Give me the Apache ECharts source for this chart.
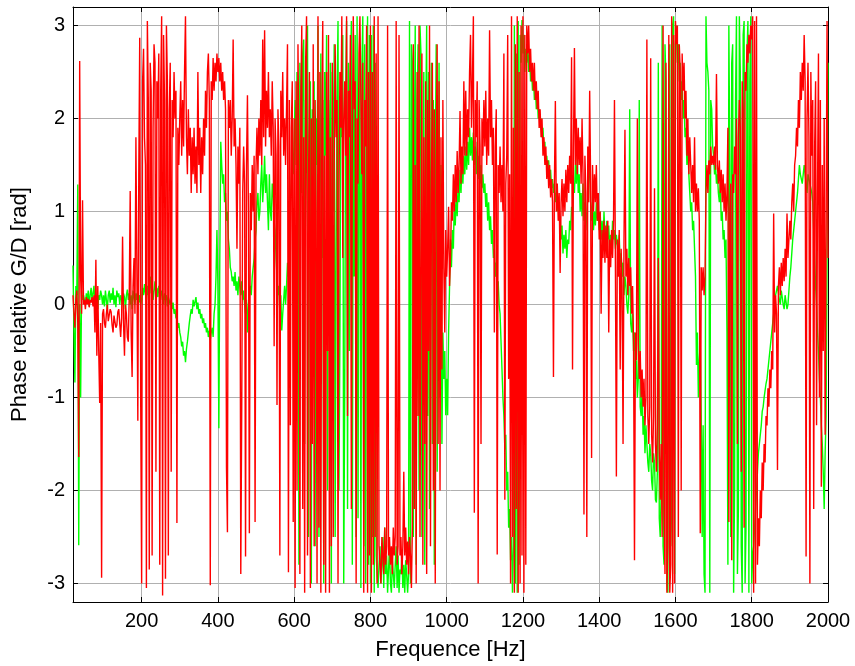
<!DOCTYPE html>
<html>
<head>
<meta charset="utf-8">
<script src="https://cdn.jsdelivr.net/npm/echarts@6/dist/echarts.min.js"></script>
<style>html,body{margin:0;padding:0;background:#fff}#c{width:855px;height:666px}</style>
</head>
<body>
<div id="c"></div>
<script>
// Frequency grid (Hz)
const freq = [
20,22.5,25,27.5,30,32.5,35,37.5,40,42.5,45,47.5,
50,52.5,55,57.5,60,62.5,65,67.5,70,72.5,75,77.5,80,82.5,85,87.5,90,92.5,95,97.5,
100,102.5,105,107.5,110,112.5,115,117.5,120,122.5,125,127.5,130,132.5,135,137.5,140,142.5,145,147.5,
150,152.5,155,157.5,160,162.5,165,167.5,170,172.5,175,177.5,180,182.5,185,187.5,190,192.5,195,197.5,
200,202.5,205,207.5,210,212.5,215,217.5,220,222.5,225,227.5,230,232.5,235,237.5,240,242.5,245,247.5,
250,252.5,255,257.5,260,262.5,265,267.5,270,272.5,275,277.5,280,282.5,285,287.5,290,292.5,295,297.5,
300,302.5,305,307.5,310,312.5,315,317.5,320,322.5,325,327.5,330,332.5,335,337.5,340,342.5,345,347.5,
350,352.5,355,357.5,360,362.5,365,367.5,370,372.5,375,377.5,380,382.5,385,387.5,390,392.5,395,397.5,
400,402.5,405,407.5,410,412.5,415,417.5,420,422.5,425,427.5,430,432.5,435,437.5,440,442.5,445,447.5,
450,452.5,455,457.5,460,462.5,465,467.5,470,472.5,475,477.5,480,482.5,485,487.5,490,492.5,495,497.5,
500,502.5,505,507.5,510,512.5,515,517.5,520,522.5,525,527.5,530,532.5,535,537.5,540,542.5,545,547.5,
550,552.5,555,557.5,560,562.5,565,567.5,570,572.5,575,577.5,580,582.5,585,587.5,590,592.5,595,597.5,
600,602.5,605,607.5,610,612.5,615,617.5,620,622.5,625,627.5,630,632.5,635,637.5,640,642.5,645,647.5,
650,652.5,655,657.5,660,662.5,665,667.5,670,672.5,675,677.5,680,682.5,685,687.5,690,692.5,695,697.5,
700,702.5,705,707.5,710,712.5,715,717.5,720,722.5,725,727.5,730,732.5,735,737.5,740,742.5,745,747.5,
750,752.5,755,757.5,760,762.5,765,767.5,770,772.5,775,777.5,780,782.5,785,787.5,790,792.5,795,797.5,
800,802.5,805,807.5,810,812.5,815,817.5,820,822.5,825,827.5,830,832.5,835,837.5,840,842.5,845,847.5,
850,852.5,855,857.5,860,862.5,865,867.5,870,872.5,875,877.5,880,882.5,885,887.5,890,892.5,895,897.5,
900,902.5,905,907.5,910,912.5,915,917.5,920,922.5,925,927.5,930,932.5,935,937.5,940,942.5,945,947.5,
950,952.5,955,957.5,960,962.5,965,967.5,970,972.5,975,977.5,980,982.5,985,987.5,990,992.5,995,997.5,
1000,1002.5,1005,1007.5,1010,1012.5,1015,1017.5,1020,1022.5,1025,1027.5,1030,1032.5,1035,1037.5,1040,1042.5,1045,1047.5,
1050,1052.5,1055,1057.5,1060,1062.5,1065,1067.5,1070,1072.5,1075,1077.5,1080,1082.5,1085,1087.5,1090,1092.5,1095,1097.5,
1100,1102.5,1105,1107.5,1110,1112.5,1115,1117.5,1120,1122.5,1125,1127.5,1130,1132.5,1135,1137.5,1140,1142.5,1145,1147.5,
1150,1152.5,1155,1157.5,1160,1162.5,1165,1167.5,1170,1172.5,1175,1177.5,1180,1182.5,1185,1187.5,1190,1192.5,1195,1197.5,
1200,1202.5,1205,1207.5,1210,1212.5,1215,1217.5,1220,1222.5,1225,1227.5,1230,1232.5,1235,1237.5,1240,1242.5,1245,1247.5,
1250,1252.5,1255,1257.5,1260,1262.5,1265,1267.5,1270,1272.5,1275,1277.5,1280,1282.5,1285,1287.5,1290,1292.5,1295,1297.5,
1300,1302.5,1305,1307.5,1310,1312.5,1315,1317.5,1320,1322.5,1325,1327.5,1330,1332.5,1335,1337.5,1340,1342.5,1345,1347.5,
1350,1352.5,1355,1357.5,1360,1362.5,1365,1367.5,1370,1372.5,1375,1377.5,1380,1382.5,1385,1387.5,1390,1392.5,1395,1397.5,
1400,1402.5,1405,1407.5,1410,1412.5,1415,1417.5,1420,1422.5,1425,1427.5,1430,1432.5,1435,1437.5,1440,1442.5,1445,1447.5,
1450,1452.5,1455,1457.5,1460,1462.5,1465,1467.5,1470,1472.5,1475,1477.5,1480,1482.5,1485,1487.5,1490,1492.5,1495,1497.5,
1500,1502.5,1505,1507.5,1510,1512.5,1515,1517.5,1520,1522.5,1525,1527.5,1530,1532.5,1535,1537.5,1540,1542.5,1545,1547.5,
1550,1552.5,1555,1557.5,1560,1562.5,1565,1567.5,1570,1572.5,1575,1577.5,1580,1582.5,1585,1587.5,1590,1592.5,1595,1597.5,
1600,1602.5,1605,1607.5,1610,1612.5,1615,1617.5,1620,1622.5,1625,1627.5,1630,1632.5,1635,1637.5,1640,1642.5,1645,1647.5,
1650,1652.5,1655,1657.5,1660,1662.5,1665,1667.5,1670,1672.5,1675,1677.5,1680,1682.5,1685,1687.5,1690,1692.5,1695,1697.5,
1700,1702.5,1705,1707.5,1710,1712.5,1715,1717.5,1720,1722.5,1725,1727.5,1730,1732.5,1735,1737.5,1740,1742.5,1745,1747.5,
1750,1752.5,1755,1757.5,1760,1762.5,1765,1767.5,1770,1772.5,1775,1777.5,1780,1782.5,1785,1787.5,1790,1792.5,1795,1797.5,
1800,1802.5,1805,1807.5,1810,1812.5,1815,1817.5,1820,1822.5,1825,1827.5,1830,1832.5,1835,1837.5,1840,1842.5,1845,1847.5,
1850,1852.5,1855,1857.5,1860,1862.5,1865,1867.5,1870,1872.5,1875,1877.5,1880,1882.5,1885,1887.5,1890,1892.5,1895,1897.5,
1900,1902.5,1905,1907.5,1910,1912.5,1915,1917.5,1920,1922.5,1925,1927.5,1930,1932.5,1935,1937.5,1940,1942.5,1945,1947.5,
1950,1952.5,1955,1957.5,1960,1962.5,1965,1967.5,1970,1972.5,1975,1977.5,1980,1982.5,1985,1987.5,1990,1992.5,1995,1997.5,
2000
];

// Green series (phase, rad)
const phaseGreen = [
0.42,-0.3,-0.84,0.2,0.1,1.29,-2.59,0.0,-1.0,0.15,0.05,0.1,
0.1,0.0,0.12,0.05,0.15,-0.02,0.1,0.18,0.05,0.12,0.2,0.0,0.1,0.05,-0.05,0.1,0.05,0.15,0.1,0.0,
0.1,-0.02,0.15,0.05,-0.05,0.1,0.15,0.02,0.12,0.05,0.18,0.0,0.1,-0.03,0.15,0.08,0.12,0.0,0.1,0.05,
0.0,0.12,0.08,-0.05,0.1,0.16,0.05,0.12,0.0,0.1,-0.05,0.15,0.08,0.0,0.12,0.05,0.15,0.02,0.1,0.0,
0.05,0.18,0.1,0.22,0.12,0.05,0.2,0.1,0.15,0.3,0.12,0.2,0.05,0.15,0.25,0.1,0.18,0.08,0.2,0.12,
0.05,0.15,0.1,0.0,0.12,0.05,0.1,-0.02,0.08,0.1,0.0,0.05,-0.05,0.02,-0.1,-0.05,-0.15,-0.1,-0.25,-0.2,
-0.3,-0.35,-0.45,-0.4,-0.55,-0.5,-0.62,-0.48,-0.4,-0.3,-0.2,-0.12,-0.05,-0.1,0.05,-0.02,0.0,0.08,-0.05,0.02,
-0.1,-0.05,-0.15,-0.1,-0.2,-0.15,-0.25,-0.2,-0.3,-0.25,-0.35,-0.28,-0.38,-0.3,-0.25,-0.35,-0.1,0.0,0.3,0.8,
0.2,-1.33,0.5,1.75,1.5,1.3,1.4,1.1,1.2,0.9,1.0,0.7,0.6,0.4,0.35,0.25,0.3,0.2,0.35,0.15,
0.25,0.1,0.3,0.2,0.1,0.25,0.05,0.15,0.0,-0.1,0.05,-0.3,0.0,0.1,0.2,0.1,0.3,0.4,0.5,0.7,
0.8,1.1,1.2,0.9,1.0,1.3,1.5,1.1,1.3,1.6,1.2,1.4,1.1,0.8,1.4,1.0,0.9,1.3,1.2,0.9,
0.8,0.5,0.3,0.1,0.2,-0.1,0.1,-0.28,-0.1,0.05,0.2,0.0,0.2,0.45,0.3,0.9,1.1,1.3,1.6,1.4,
1.8,2.2,1.5,2.5,2.0,-2.8,2.6,2.0,1.2,2.7,2.85,-1.5,2.2,1.6,3.0,-2.5,1.8,2.4,-3.0,2.1,
1.8,2.4,-2.6,2.0,1.5,3.0,-2.5,1.2,2.7,0.5,2.2,-3.0,2.5,1.6,2.9,-2.0,2.2,0.8,2.6,-3.0,
2.5,1.0,2.8,-2.5,0.5,2.2,3.05,-2.0,-0.3,2.4,1.8,2.9,-3.0,-1.0,2.2,3.05,-2.2,2.6,-0.5,2.4,
3.05,-2.8,2.4,0.3,2.9,-2.5,3.1,-2.3,2.0,2.8,-3.05,2.5,3.1,-2.6,2.8,-3.0,2.2,3.1,-2.8,2.9,
-3.0,2.9,-2.5,3.0,-3.1,2.6,-2.7,-2.9,-3.05,-2.8,-2.6,-3.0,-2.8,-2.5,-3.05,-2.4,-2.9,-2.7,-3.1,-2.85,
-2.6,-3.0,-3.1,-2.75,-2.9,-3.05,-2.8,-2.6,-3.05,-2.7,-3.1,-2.85,-2.9,-2.7,-3.05,-2.8,-3.1,-2.75,-2.9,-3.1,
-2.9,3.05,-3.0,2.8,2.6,-2.5,1.5,3.0,-2.8,2.2,2.8,-2.0,3.0,2.7,-2.5,0.8,2.5,-2.8,2.0,3.0,
-1.2,2.5,-2.2,1.0,2.6,-1.5,2.2,-2.8,1.5,2.8,-1.8,0.5,2.6,-1.0,1.5,-1.5,-0.3,-0.8,-0.5,-1.19,
-0.8,-1.19,-0.3,0.2,0.7,0.4,0.8,0.6,1.1,0.85,1.2,0.95,1.3,1.1,1.45,1.2,1.5,1.3,1.6,1.4,
1.7,1.45,1.75,1.5,1.9,1.6,1.8,1.55,1.85,1.5,1.7,1.4,1.75,1.35,1.6,1.3,1.5,1.25,1.4,1.2,
1.3,1.05,1.2,0.9,1.1,0.8,0.95,0.65,0.8,0.5,0.6,0.3,0.45,0.2,0.25,0.0,-0.1,-0.4,-0.7,-1.0,
-1.2,-1.56,-1.4,-2.0,-1.8,-2.4,-2.2,-2.75,-2.5,-3.1,-2.6,3.0,-3.0,2.7,-3.1,3.05,-2.8,2.9,2.6,3.06,
2.7,2.9,2.5,2.75,2.6,2.8,2.5,2.7,2.4,2.55,2.3,2.45,2.2,2.35,2.1,2.25,2.0,2.1,1.9,2.0,
1.8,1.9,1.65,1.75,1.5,1.6,1.45,1.55,1.35,1.45,1.25,1.35,1.2,1.3,1.1,1.2,1.0,1.1,0.9,0.95,
0.7,0.85,0.55,0.75,0.6,0.8,0.5,0.7,0.65,0.9,0.8,1.05,1.0,1.3,1.2,1.5,1.3,1.6,1.2,1.4,
1.0,1.2,0.95,1.3,0.9,1.1,0.8,1.0,1.15,1.4,1.5,1.1,0.9,1.1,0.8,1.0,0.85,1.1,0.9,1.0,
0.8,1.0,0.7,0.9,0.65,1.0,0.75,0.6,0.9,0.7,0.85,0.6,0.75,0.55,0.9,0.7,0.8,0.6,0.75,0.65,
0.6,0.75,0.4,0.55,0.3,0.45,0.1,0.3,0.2,0.0,-0.1,0.1,2.1,-0.2,-0.3,-0.1,-0.5,-0.3,-0.8,-0.6,
-1.0,-0.8,2.2,-1.1,-1.2,-0.9,-1.4,-1.2,-1.6,-1.3,-1.3,-1.7,-1.8,-1.5,-1.6,-1.9,-2.0,-1.6,-1.7,-2.1,
-2.13,-1.8,2.6,-2.3,-2.5,-2.0,3.0,-2.6,-2.8,2.8,2.4,-3.0,-3.1,2.5,2.8,-2.6,-2.2,3.0,3.1,-2.9,
2.8,3.0,2.6,2.8,2.4,2.6,2.2,2.4,2.0,2.2,1.8,1.9,1.5,1.7,1.4,1.2,1.0,1.1,0.8,0.9,
0.6,0.3,-0.65,-0.3,-1.0,-0.6,-0.4,-1.2,-2.5,-1.3,-2.9,-3.1,3.1,2.6,2.5,2.3,-3.1,2.2,2.1,1.7,
1.6,1.4,1.5,1.3,1.4,1.2,1.1,1.3,0.9,1.0,0.7,0.8,0.5,0.7,-0.3,-2.8,3.0,1.5,-2.5,2.6,
2.8,-3.1,-2.0,2.2,3.1,-2.9,-2.2,3.1,2.5,-2.6,-3.1,2.9,3.05,-3.0,-2.4,2.7,3.05,-3.1,2.4,3.1,
-3.0,-2.7,-2.6,-2.4,-2.2,-2.0,-1.8,-1.6,-1.5,-1.4,-1.3,-1.15,-1.1,-1.0,-1.0,-0.85,-0.8,-0.7,-0.6,-0.5,
-0.4,-0.3,-0.2,-0.1,0.0,0.1,0.1,0.2,0.2,0.05,0.0,0.15,0.15,0.0,-0.05,0.1,0.1,-0.05,0.0,0.15,
0.3,0.4,0.55,0.7,0.8,0.9,1.0,1.1,1.2,1.35,1.5,1.4,1.4,1.3,1.3,1.5,1.5,1.3,1.2,1.4,
1.4,1.3,1.3,1.2,1.1,0.8,0.5,0.2,0.0,-0.3,-0.5,-0.8,-1.0,-1.3,-1.5,-1.8,-2.2,-1.6,-1.2,0.5,
2.6
];

// Red series (phase, rad)
const phaseRed = [
0.1,-0.1,-0.25,0.05,0.15,-0.2,-1.64,2.62,0.3,-0.1,1.12,0.0,
0.05,-0.05,0.08,0.0,0.06,-0.03,0.05,0.02,0.08,-0.02,0.1,-0.3,0.48,-0.55,0.2,-0.5,-1.06,-0.2,-2.94,-0.1,
-0.05,-0.2,-0.25,-0.1,0.0,-0.18,-0.2,-0.05,-0.08,-0.22,-0.3,-0.12,-0.1,-0.25,-0.22,-0.08,-0.05,-0.2,-0.35,-0.15,
0.73,-0.2,-0.55,0.0,-0.1,-0.35,-0.4,0.1,1.22,-0.3,-0.78,0.2,0.5,-0.1,1.8,0.4,-1.25,1.4,2.87,-1.0,
-3.0,2.4,2.75,1.8,1.5,-3.05,3.05,2.2,-2.85,2.6,2.3,-2.7,1.9,2.8,2.6,-1.8,2.4,2.0,2.7,-2.8,
2.3,3.1,-3.13,2.9,2.2,-2.95,3.0,2.4,-2.7,2.1,2.6,-1.8,2.2,1.8,2.5,2.0,2.3,-2.35,1.9,1.5,
2.0,2.4,1.6,2.2,1.7,2.5,3.1,1.8,1.4,2.1,1.6,1.9,1.2,1.8,1.4,1.9,1.3,1.7,1.2,2.5,
1.5,1.9,1.2,1.8,1.4,2.0,1.6,2.3,1.9,2.5,2.7,2.2,-3.02,2.4,2.2,2.65,2.3,2.6,2.4,2.7,
2.5,2.65,2.4,2.6,2.3,2.5,2.2,2.4,2.1,-1.75,-2.45,2.2,1.9,2.2,1.6,2.0,2.85,1.7,2.0,1.5,
0.6,1.7,1.3,1.9,-2.9,-1.13,1.2,1.7,1.3,-2.71,1.5,2.25,1.0,-2.46,1.2,0.8,1.5,1.0,1.6,-2.34,
1.5,1.9,1.4,2.0,1.6,2.2,1.5,2.85,1.8,2.95,1.7,2.3,1.9,2.5,1.8,2.1,1.6,2.4,1.9,-0.45,
2.0,1.6,-1.08,2.1,1.7,-2.7,2.3,1.8,2.5,1.6,2.0,1.5,2.1,2.8,-2.88,2.2,-1.3,1.9,2.4,-2.34,
2.0,-3.05,2.4,-2.0,2.8,1.5,-2.9,2.2,3.0,-2.2,1.8,-3.1,2.6,3.1,-2.7,1.2,2.5,-3.05,2.0,-1.5,
2.8,-2.6,2.2,1.0,-3.0,3.1,-2.4,2.5,-3.1,2.0,3.05,-2.8,1.6,-3.1,2.5,-0.5,2.9,-3.1,1.8,-2.6,
2.6,-2.5,1.5,2.8,1.8,2.2,-3.0,1.2,2.5,1.9,3.1,0.5,2.0,2.4,1.6,3.1,-1.2,2.3,1.8,2.9,
-2.2,1.8,3.1,2.1,2.4,-3.0,2.0,1.3,2.7,3.1,2.2,1.4,2.6,-3.1,2.2,1.7,3.0,-3.1,2.5,-2.7,
3.0,-3.1,2.5,-2.8,3.1,-2.5,2.7,-3.0,3.1,-2.6,-2.8,-3.0,-2.5,-2.7,-2.9,-2.4,-2.8,-2.6,3.0,-2.7,
-2.5,-2.8,-2.6,-2.9,-2.4,-2.7,-2.5,3.05,-2.8,-2.6,2.9,-2.7,-2.5,-2.9,-2.6,-1.8,-2.7,-2.4,-2.8,-2.55,
-2.9,-2.5,-2.7,-3.05,-2.4,2.8,-2.2,1.5,-3.0,2.5,-1.2,3.0,-2.5,0.5,2.7,-2.8,1.8,-1.5,2.4,-2.9,
2.2,-0.5,3.0,-2.6,1.2,2.6,-2.0,2.1,-3.0,1.5,2.8,-1.5,2.4,-2.0,1.8,-0.7,2.2,0.4,-0.3,0.8,
0.3,0.6,1.05,0.2,0.5,1.1,0.9,1.4,1.0,1.5,1.1,1.65,1.2,1.5,2.08,1.3,1.7,1.4,2.4,1.6,
2.3,1.6,2.1,1.8,2.5,2.9,1.9,2.4,3.1,-2.24,2.2,1.8,2.4,-3.0,2.2,1.7,-1.5,2.0,1.6,2.2,
1.7,2.3,1.5,2.0,1.6,2.95,1.8,2.2,1.5,1.9,-0.3,1.7,2.1,-2.69,1.5,1.2,1.7,1.1,1.5,1.0,
2.7,-2.1,1.3,1.6,2.9,-0.8,1.4,-3.0,3.1,-2.5,1.9,-3.1,2.8,-2.2,3.1,-3.1,2.5,-3.0,3.0,-2.7,
3.1,-3.1,2.9,-2.8,3.0,2.7,3.0,2.5,2.75,2.4,2.6,2.3,2.6,2.2,2.4,2.1,2.3,1.9,2.1,1.8,
2.0,1.6,1.8,1.5,1.7,1.35,1.55,1.25,1.5,1.15,1.35,1.1,-0.78,1.3,2.19,1.0,1.3,0.9,1.2,0.34,
1.1,1.35,0.95,1.3,1.0,1.45,1.1,1.5,1.2,1.6,1.3,2.66,-0.7,1.7,2.76,1.5,2.0,1.4,1.9,1.5,
1.8,1.3,2.0,1.4,-2.26,1.6,1.2,-2.5,1.7,1.1,2.3,1.3,-1.65,1.5,1.0,1.4,1.1,1.5,0.9,1.2,
0.7,1.0,-0.1,0.8,0.5,0.9,0.45,0.85,0.5,0.9,-0.3,0.7,0.4,0.8,0.5,0.9,2.2,0.4,-1.85,0.7,
0.3,0.8,-0.7,0.6,0.2,-1.5,0.7,1.88,0.3,0.6,0.1,0.5,0.2,0.4,-0.1,0.2,-0.4,-2.75,-0.3,-0.6,
2.0,-0.4,-0.8,-0.5,-1.0,-0.7,-1.1,-0.8,-1.3,-1.0,2.85,-1.2,-1.5,-1.1,2.65,-1.4,-1.7,-1.2,1.25,-1.5,
-1.8,-1.3,0.5,-1.6,-2.1,-1.5,-2.5,3.0,-2.2,-2.9,2.6,-3.1,-2.6,2.9,-3.1,-2.8,3.1,-3.1,2.9,-3.0,
3.05,2.8,3.0,-2.5,2.8,2.5,-2.0,2.7,2.3,2.6,2.0,2.3,1.6,2.0,1.4,1.8,1.5,1.2,1.5,1.1,
1.8,1.0,1.3,1.0,1.25,0.9,-2.46,0.4,0.15,0.4,0.1,0.3,1.2,1.5,1.2,1.55,1.4,1.7,1.5,1.6,
1.5,1.7,1.45,2.48,1.5,1.3,1.55,1.2,1.45,1.1,1.4,1.0,1.3,0.9,1.2,1.9,-2.34,1.0,1.3,-2.75,
1.4,1.2,1.7,1.4,2.0,-1.5,1.8,2.2,1.9,-1.8,2.4,2.1,-2.4,2.5,2.3,2.8,2.6,2.9,2.7,3.0,
2.85,3.1,-3.1,3.05,-3.0,3.1,-2.8,-2.3,-2.6,-2.0,-2.3,-1.7,-2.0,-1.5,-1.7,-1.2,-1.3,-0.9,-1.1,-0.7,
-0.9,-0.5,-0.7,0.98,-0.3,0.1,-0.1,-1.78,0.2,0.4,0.1,0.45,0.2,0.5,0.25,0.6,0.3,0.98,0.5,0.7,
0.9,0.7,1.1,1.3,1.0,1.5,1.6,1.9,1.7,2.2,1.9,2.5,2.2,2.6,2.3,2.9,2.4,-2.71,2.0,2.6,
1.8,-3.0,2.5,1.6,2.2,-2.2,1.7,2.4,-1.3,1.2,2.7,-1.0,2.2,-1.96,1.5,-0.5,2.0,-1.4,0.8,3.05,
0.5
];

const xTicks = [200,400,600,800,1000,1200,1400,1600,1800,2000];
const yTicks = [-3,-2,-1,0,1,2,3];

if (phaseGreen.length !== freq.length || phaseRed.length !== freq.length) {
  throw new Error('length mismatch: freq ' + freq.length + ' green ' + phaseGreen.length + ' red ' + phaseRed.length);
}

const chart = echarts.init(document.getElementById('c'), null, {renderer: 'canvas'});
const font = "'Liberation Sans', Arial, sans-serif";
const gridColor = '#b0b0b0';
const axisLine = {show: true, onZero: false, lineStyle: {color: '#000', width: 1}};
const tick = (vals) => ({show: true, inside: true, length: 5, customValues: vals, lineStyle: {color: '#000'}});
chart.setOption({
  animation: false,
  backgroundColor: '#fff',
  grid: {left: 73, right: 27, top: 7, bottom: 64, containLabel: false},
  xAxis: [
    {type: 'value', min: 20, max: 2000, position: 'bottom',
     name: 'Frequence [Hz]', nameLocation: 'middle', nameGap: 37,
     nameTextStyle: {fontFamily: font, fontSize: 22, color: '#000'},
     axisLine: axisLine, axisTick: tick(xTicks),
     axisLabel: {customValues: xTicks, fontFamily: font, fontSize: 20, color: '#000', margin: 9,
                 formatter: (v) => String(v)},
     splitLine: {show: true, lineStyle: {color: gridColor, width: 1}}},
    {type: 'value', min: 20, max: 2000, position: 'top',
     axisLine: axisLine, axisTick: tick(xTicks),
     axisLabel: {show: false, customValues: xTicks},
     splitLine: {show: false}}
  ],
  yAxis: [
    {type: 'value', min: -3.2, max: 3.2, position: 'left',
     name: 'Phase relative G/D [rad]', nameLocation: 'middle', nameGap: 42,
     nameTextStyle: {fontFamily: font, fontSize: 22, color: '#000'},
     axisLine: axisLine, axisTick: tick(yTicks),
     axisLabel: {customValues: yTicks, fontFamily: font, fontSize: 20, color: '#000', margin: 8,
                 formatter: (v) => String(v)},
     splitLine: {show: true, lineStyle: {color: gridColor, width: 1}}},
    {type: 'value', min: -3.2, max: 3.2, position: 'right',
     axisLine: axisLine, axisTick: tick(yTicks),
     axisLabel: {show: false, customValues: yTicks},
     splitLine: {show: false}}
  ],
  series: [
    {type: 'line', name: 'G', xAxisIndex: 0, yAxisIndex: 0,
     data: freq.map((f, i) => [f, phaseGreen[i]]),
     showSymbol: false, symbol: 'none', sampling: null,
     lineStyle: {color: '#00ff00', width: 1.4}, itemStyle: {color: '#00ff00'}, z: 2},
    {type: 'line', name: 'D', xAxisIndex: 0, yAxisIndex: 0,
     data: freq.map((f, i) => [f, phaseRed[i]]),
     showSymbol: false, symbol: 'none', sampling: null,
     lineStyle: {color: '#ff0000', width: 1.4}, itemStyle: {color: '#ff0000'}, z: 3}
  ]
});
</script>
</body>
</html>
